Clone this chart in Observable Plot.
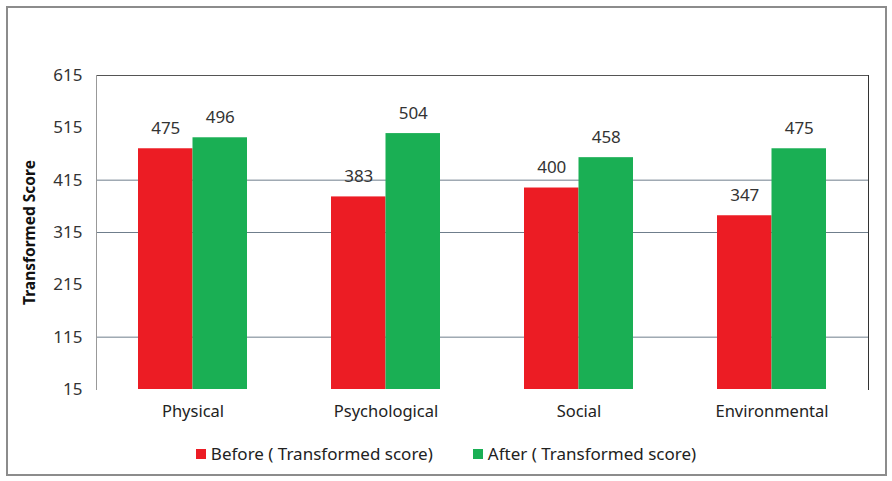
<!DOCTYPE html>
<html><head><meta charset="utf-8">
<script src="https://cdn.jsdelivr.net/npm/d3@7"></script>
<script src="https://cdn.jsdelivr.net/npm/@observablehq/plot@0.6"></script>
<style>
html,body{margin:0;padding:0;background:#fff;}
#wrap{position:relative;width:892px;height:481px;}
#border{position:absolute;left:6px;top:6px;width:877px;height:466px;border:2px solid #8c8c8c;box-sizing:content-box;}
#chart{position:absolute;left:0;top:0;}
#legend{position:absolute;left:0;top:442px;width:892px;text-align:center;font-family:"Noto Sans",sans-serif;font-size:17px;color:#222;}
#legend span.item{display:inline-block;margin:0 20px;}
#legend span.sw{display:inline-block;width:10px;height:10px;margin-right:5px;vertical-align:1px;}
</style></head>
<body><div id="wrap"><div id="border"></div><div id="chart"></div><div id="legend"></div></div>
<script>
const categories = ["Physical","Psychological","Social","Environmental"];
const before = [475, 383, 400, 347];
const after = [496, 504, 458, 475];
const yTicks = [15, 115, 215, 315, 415, 515, 615];
const gridTicks = [115, 315, 415];
const seriesNames = ["Before ( Transformed score)", "After ( Transformed score)"];
const colors = ["#ec1c24", "#1aaf54"];

const data = categories.map((c, i) => ({category: c, before: before[i], after: after[i]}));
const half = 54.5;

const plot = Plot.plot({
  width: 892,
  height: 430,
  marginLeft: 96,
  marginRight: 24,
  marginTop: 75,
  marginBottom: 41,
  style: {fontFamily: "Noto Sans, sans-serif", fontSize: "16px", color: "#222", background: "transparent"},
  x: {domain: categories, paddingInner: 0.435, paddingOuter: 0.2175, label: null},
  y: {domain: [15, 615], ticks: yTicks, label: null},
  marks: [
    Plot.ruleY(gridTicks, {stroke: "#6f7e8c", strokeWidth: 1}),
    Plot.ruleY([615], {stroke: "#555", strokeWidth: 1}),
    Plot.frame({anchor: "left", stroke: "#999"}),
    Plot.frame({anchor: "right", stroke: "#333"}),
    Plot.barY(data, {x: "category", y1: 15, y2: "before", fill: colors[0], insetRight: half}),
    Plot.barY(data, {x: "category", y1: 15, y2: "after", fill: colors[1], insetLeft: half}),
    Plot.text(data, {x: "category", y: "before", text: d => String(d.before), dx: -half/2, dy: -20, fill: "#333", fontSize: 17}),
    Plot.text(data, {x: "category", y: "after", text: d => String(d.after), dx: half/2, dy: -20, fill: "#333", fontSize: 17}),
    Plot.axisY({ticks: yTicks, tickSize: 0, tickPadding: 14, fontSize: 17, fill: "#333", label: null}),
    Plot.axisX({tickSize: 0, tickPadding: 16, fontSize: 16.5, fill: "#222", label: null}),
    Plot.text(["Transformed Score"], {frameAnchor: "left", textAnchor: "middle", dx: -66, rotate: -90, fontWeight: "bold", fontSize: 15.5, fill: "#111"})
  ]
});
document.getElementById("chart").appendChild(plot);

const legend = document.getElementById("legend");
seriesNames.forEach((name, i) => {
  const item = document.createElement("span");
  item.className = "item";
  const sw = document.createElement("span");
  sw.className = "sw";
  sw.style.background = colors[i];
  item.appendChild(sw);
  item.appendChild(document.createTextNode(name));
  legend.appendChild(item);
});
</script></body></html>
